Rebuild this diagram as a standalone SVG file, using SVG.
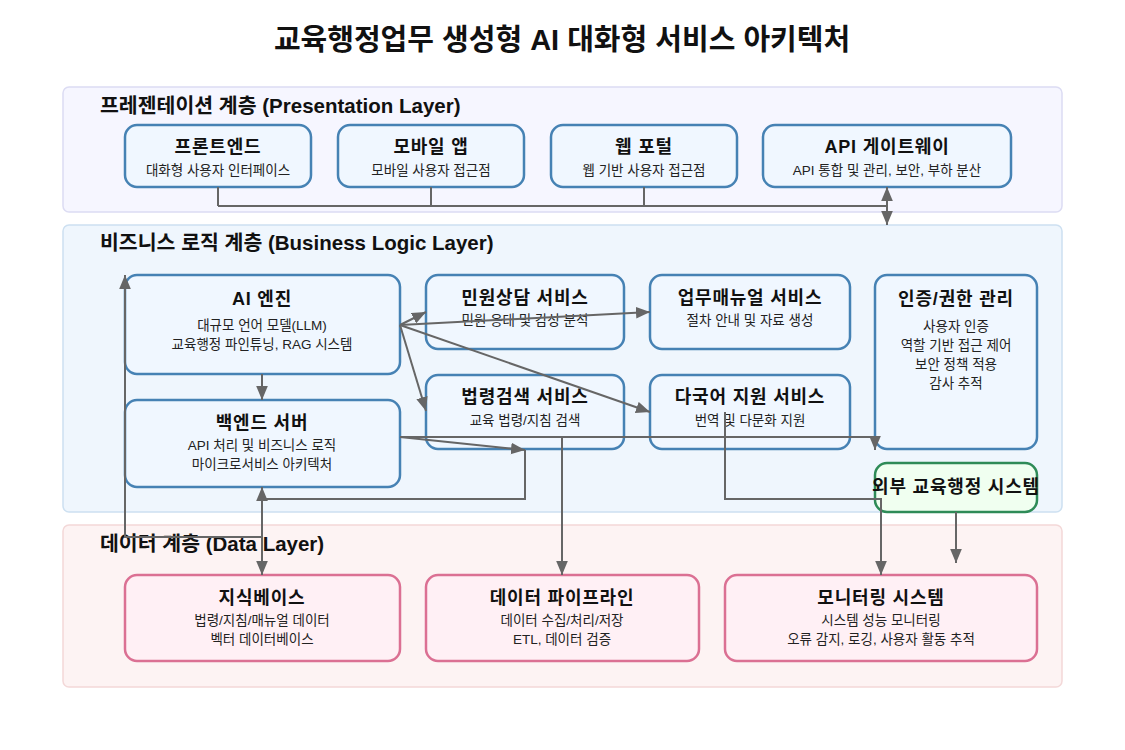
<svg xmlns="http://www.w3.org/2000/svg" width="1125" height="750" viewBox="0 0 1125 750">
<defs>
<marker id="arr" markerUnits="userSpaceOnUse" markerWidth="14" markerHeight="12" refX="12" refY="5" orient="auto-start-reverse" viewBox="0 0 12 10">
<path d="M0,0 L12,5 L0,10 z" fill="#666"/>
</marker>
<style>
text{font-family:"Liberation Sans","Noto Sans CJK KR",sans-serif;fill:#111}
.title{font-size:29px;font-weight:bold;text-anchor:middle}
.layer{font-size:20.5px;font-weight:bold}
.nt{font-size:18px;font-weight:bold;text-anchor:middle;letter-spacing:0.8px}
.ns{font-size:13.5px;text-anchor:middle;fill:#222}
.bn{fill:#f0f7ff;stroke:#4682b4;stroke-width:2.5}
.pn{fill:#fff0f5;stroke:#db7093;stroke-width:2.5}
.gn{fill:#f0fff0;stroke:#2e8b57;stroke-width:2.5}
.c{fill:none;stroke:#666;stroke-width:2}
</style>
</defs>
<rect width="1125" height="750" fill="#fff"/>
<text class="title" x="562" y="50">교육행정업무 생성형 AI 대화형 서비스 아키텍처</text>

<g id="layer-presentation">
<rect x="63" y="87" width="999" height="125" rx="6" fill="#f6f6ff" stroke="#dcdcf3" stroke-width="1.5"/>
<text class="layer" x="100" y="113">프레젠테이션 계층 (Presentation Layer)</text>
</g>
<g id="layer-business">
<rect x="63" y="225" width="999" height="287" rx="6" fill="#eff6fd" stroke="#cde0f1" stroke-width="1.5"/>
<text class="layer" x="100" y="250">비즈니스 로직 계층 (Business Logic Layer)</text>
</g>
<g id="layer-data">
<rect x="63" y="525" width="999" height="162" rx="6" fill="#fdf3f3" stroke="#f3d8d8" stroke-width="1.5"/>
<text class="layer" x="100" y="551">데이터 계층 (Data Layer)</text>
</g>

<g id="frontend">
<rect class="bn" x="125" y="125" width="186" height="62" rx="12"/>
<text class="nt" x="218" y="153">프론트엔드</text>
<text class="ns" x="218" y="175">대화형 사용자 인터페이스</text>
</g>
<g id="mobile-app">
<rect class="bn" x="338" y="125" width="186" height="62" rx="12"/>
<text class="nt" x="431" y="153">모바일 앱</text>
<text class="ns" x="431" y="175">모바일 사용자 접근점</text>
</g>
<g id="web-portal">
<rect class="bn" x="551" y="125" width="186" height="62" rx="12"/>
<text class="nt" x="644" y="153">웹 포털</text>
<text class="ns" x="644" y="175">웹 기반 사용자 접근점</text>
</g>
<g id="api-gateway">
<rect class="bn" x="763" y="125" width="248" height="62" rx="12"/>
<text class="nt" x="887" y="153">API 게이트웨이</text>
<text class="ns" x="887" y="175">API 통합 및 관리, 보안, 부하 분산</text>
</g>

<g id="ai-engine">
<rect class="bn" x="125" y="275" width="275" height="99" rx="12"/>
<text class="nt" x="262" y="305">AI 엔진</text>
<text class="ns" x="262" y="330">대규모 언어 모델(LLM)</text>
<text class="ns" x="262" y="349">교육행정 파인튜닝, RAG 시스템</text>
</g>
<g id="backend">
<rect class="bn" x="125" y="400" width="275" height="87" rx="12"/>
<text class="nt" x="262" y="429">백엔드 서버</text>
<text class="ns" x="262" y="450">API 처리 및 비즈니스 로직</text>
<text class="ns" x="262" y="469">마이크로서비스 아키텍처</text>
</g>
<g id="civil-service">
<rect class="bn" x="426" y="275" width="198" height="74" rx="12"/>
<text class="nt" x="525" y="304">민원상담 서비스</text>
<text class="ns" x="525" y="325">민원 응대 및 감성 분석</text>
</g>
<g id="manual-service">
<rect class="bn" x="650" y="275" width="200" height="74" rx="12"/>
<text class="nt" x="750" y="304">업무매뉴얼 서비스</text>
<text class="ns" x="750" y="325">절차 안내 및 자료 생성</text>
</g>
<g id="law-search">
<rect class="bn" x="426" y="375" width="198" height="74" rx="12"/>
<text class="nt" x="525" y="403">법령검색 서비스</text>
<text class="ns" x="525" y="425">교육 법령/지침 검색</text>
</g>
<g id="multilingual">
<rect class="bn" x="650" y="375" width="200" height="74" rx="12"/>
<text class="nt" x="750" y="403">다국어 지원 서비스</text>
<text class="ns" x="750" y="425">번역 및 다문화 지원</text>
</g>
<g id="auth">
<rect class="bn" x="875" y="275" width="162" height="174" rx="12"/>
<text class="nt" x="956" y="305">인증/권한 관리</text>
<text class="ns" x="956" y="331">사용자 인증</text>
<text class="ns" x="956" y="350">역할 기반 접근 제어</text>
<text class="ns" x="956" y="369">보안 정책 적용</text>
<text class="ns" x="956" y="388">감사 추적</text>
</g>
<g id="external-system">
<rect class="gn" x="875" y="463" width="162" height="49" rx="12"/>
<text class="nt" x="956" y="493">외부 교육행정 시스템</text>
</g>

<g id="knowledge-base">
<rect class="pn" x="125" y="575" width="275" height="86" rx="12"/>
<text class="nt" x="262" y="604">지식베이스</text>
<text class="ns" x="262" y="625">법령/지침/매뉴얼 데이터</text>
<text class="ns" x="262" y="644">벡터 데이터베이스</text>
</g>
<g id="data-pipeline">
<rect class="pn" x="426" y="575" width="273" height="86" rx="12"/>
<text class="nt" x="562" y="604">데이터 파이프라인</text>
<text class="ns" x="562" y="625">데이터 수집/처리/저장</text>
<text class="ns" x="562" y="644">ETL, 데이터 검증</text>
</g>
<g id="monitoring">
<rect class="pn" x="725" y="575" width="312" height="86" rx="12"/>
<text class="nt" x="881" y="604">모니터링 시스템</text>
<text class="ns" x="881" y="625">시스템 성능 모니터링</text>
<text class="ns" x="881" y="644">오류 감지, 로깅, 사용자 활동 추적</text>
</g>

<g id="connectors">
<path class="c" d="M218,187 V206 M431,187 V206 M644,187 V206 M218,206 H887"/>
<path class="c" d="M887,187 V225" marker-start="url(#arr)" marker-end="url(#arr)"/>
<path class="c" d="M262,374 V400" marker-end="url(#arr)"/>
<path class="c" d="M400,325 L426,312" marker-end="url(#arr)"/>
<path class="c" d="M400,325 L650,312" marker-end="url(#arr)"/>
<path class="c" d="M400,325 L426,411" marker-end="url(#arr)"/>
<path class="c" d="M400,325 L650,412" marker-end="url(#arr)"/>
<path class="c" d="M400,437 H875 V450" marker-end="url(#arr)"/>
<path class="c" d="M400,437 L525,450" marker-end="url(#arr)"/>
<path class="c" d="M525,450 V499 H262"/>
<path class="c" d="M262,487 V575" marker-start="url(#arr)" marker-end="url(#arr)"/>
<path class="c" d="M262,537 H125 V275" marker-end="url(#arr)"/>
<path class="c" d="M562,437 V575" marker-end="url(#arr)"/>
<path class="c" d="M725,412 V499 H881 V575" marker-end="url(#arr)"/>
<path class="c" d="M956,512 V563" marker-end="url(#arr)"/>
</g>
</svg>
